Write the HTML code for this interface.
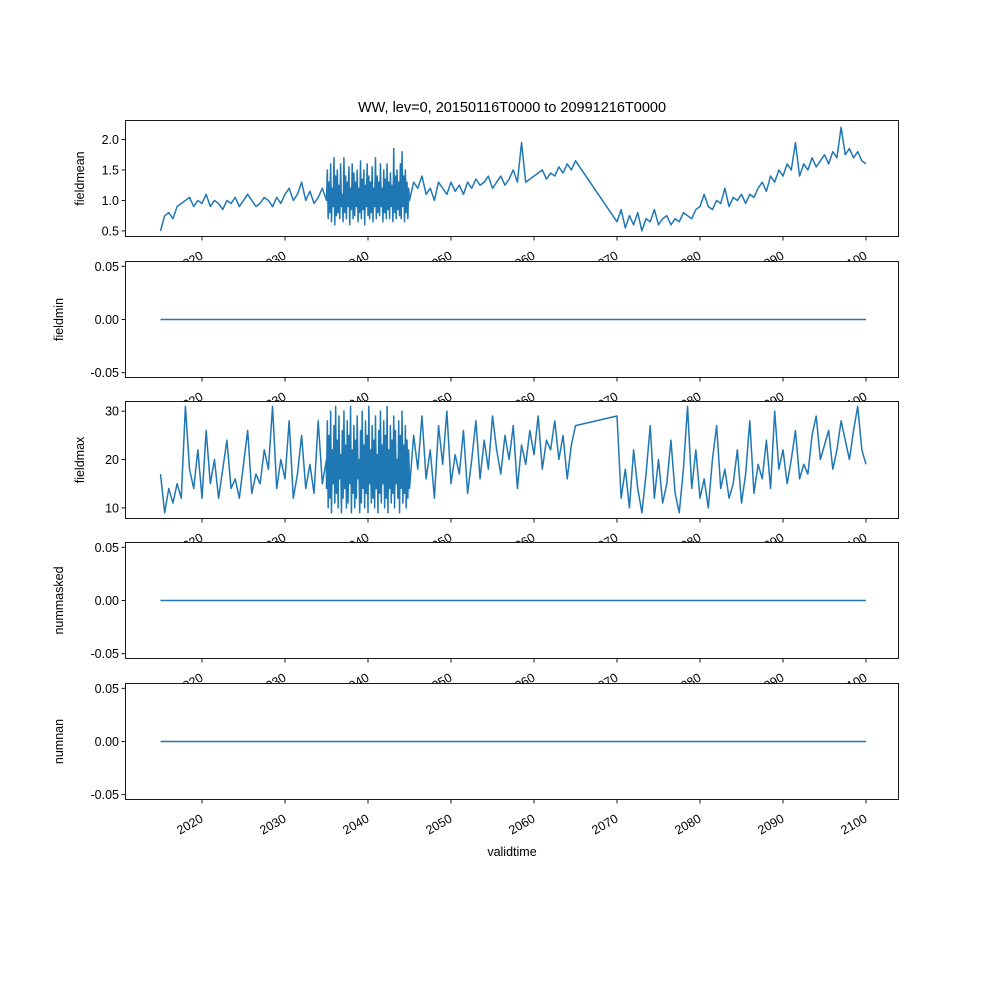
<!DOCTYPE html>
<html><head><meta charset="utf-8">
<style>
html,body{margin:0;padding:0;background:#fff;}
svg{display:block;font-family:"Liberation Sans","DejaVu Sans",sans-serif;}
</style></head>
<body>
<svg id="chart" width="1000" height="1000" viewBox="0 0 1000 1000"></svg>
<script>
// ---- data ----
const xTickYears = [2020,2030,2040,2050,2060,2070,2080,2090,2100];
const panelNames = ["fieldmean","fieldmin","fieldmax","nummasked","numnan"];
const meanTicks = [0.5,1.0,1.5,2.0];
const zeroTicks = [-0.05,0.00,0.05];
const maxTicks = [10,20,30];
const segStarts = [2015,2035,2045,2070];
const segEnds = [2035,2045,2065,2100];
const meanA = [0.5,0.75,0.8,0.7,0.9,0.95,1.0,1.05,0.9,1.0,0.95,1.1,0.9,1.0,0.95,0.85,1.0,0.95,1.05,0.9,1.0,1.1,1.0,0.9,0.95,1.05,1.0,0.9,1.05,0.95,1.1,1.2,1.0,1.1,1.3,1.0,1.15,0.95,1.05,1.2,1.0];
const meanB = [1.0,1.5,0.7,1.3,0.8,1.6,0.65,1.2,0.9,1.7,0.6,1.4,0.75,1.5,0.8,1.25,0.7,1.6,0.9,1.1,0.65,1.7,0.8,1.4,0.7,1.3,0.9,1.55,0.6,1.2,0.85,1.6,0.7,1.45,0.75,1.3,0.9,1.5,0.65,1.2,0.8,1.65,0.7,1.35,0.85,1.5,0.6,1.25,0.9,1.6,0.75,1.4,0.7,1.3,0.8,1.55,0.65,1.2,0.9,1.7,0.7,1.4,0.8,1.3,0.75,1.6,0.9,1.2,0.65,1.5,0.8,1.35,0.7,1.6,0.85,1.3,0.7,1.45,0.9,1.25,0.65,1.85,0.8,1.4,0.7,1.5,0.85,1.3,0.75,1.6,0.7,1.8,0.9,1.4,0.65,1.5,0.8,1.3,0.7,1.2,1.0];
const meanC = [1.0,1.3,1.2,1.4,1.1,1.2,1.0,1.3,1.2,1.1,1.3,1.15,1.25,1.1,1.3,1.2,1.35,1.25,1.3,1.4,1.2,1.3,1.4,1.25,1.35,1.5,1.3,1.95,1.3,1.35,1.4,1.45,1.5,1.35,1.45,1.4,1.55,1.45,1.6,1.5,1.65];
const meanD = [0.65,0.85,0.55,0.75,0.6,0.8,0.5,0.7,0.65,0.85,0.6,0.7,0.75,0.6,0.7,0.65,0.8,0.75,0.7,0.85,0.9,1.1,0.9,0.85,1.0,0.95,1.2,0.9,1.05,1.0,1.1,0.95,1.1,1.05,1.2,1.3,1.15,1.4,1.3,1.5,1.4,1.6,1.5,1.95,1.4,1.6,1.5,1.7,1.55,1.65,1.75,1.6,1.8,1.7,2.2,1.75,1.85,1.7,1.8,1.65,1.6];
const maxA = [17,9,14,11,15,12,31,18,14,22,12,26,15,20,12,18,24,14,16,12,19,26,13,17,15,22,18,31,14,20,16,28,12,17,25,14,19,13,28,15,20];
const maxB = [14,28,10,25,12,30,9,22,15,27,11,31,13,24,10,29,16,21,9,26,12,30,14,23,10,28,11,25,15,31,9,22,13,27,10,24,12,29,16,20,9,26,11,30,14,23,10,28,13,25,9,31,15,22,11,27,12,24,10,29,14,21,9,26,13,30,11,23,15,28,10,25,12,31,9,22,14,27,11,24,13,29,10,26,15,20,12,28,9,25,14,30,11,23,13,27,10,24,12,22,15];
const maxC = [14,25,18,29,16,22,12,27,19,30,15,21,17,26,13,20,28,16,24,18,29,22,17,25,20,27,14,23,19,26,21,29,18,24,22,28,20,25,16,23,27];
const maxD = [29,12,18,10,22,14,9,17,27,12,20,11,15,24,13,9,18,31,14,22,12,16,10,20,27,14,18,12,15,22,11,17,28,13,19,16,24,14,30,18,22,15,20,26,16,19,17,25,29,20,23,26,18,22,28,24,20,26,31,22,19];
const zeroStart = [2015], zeroEnd = [2100], zeroVals = [0,0];

// ---- layout ----
const L=125, R=899;
const panels=[
 {top:120,bot:237,ymin:0.4,ymax:2.32,ticks:meanTicks,fmt:v=>v.toFixed(1),segs:[meanA,meanB,meanC,meanD]},
 {top:261,bot:378,ymin:-0.055,ymax:0.055,ticks:zeroTicks,fmt:v=>v.toFixed(2),segs:[zeroVals]},
 {top:401,bot:519,ymin:7.7,ymax:32.1,ticks:maxTicks,fmt:v=>String(v),segs:[maxA,maxB,maxC,maxD]},
 {top:542,bot:659,ymin:-0.055,ymax:0.055,ticks:zeroTicks,fmt:v=>v.toFixed(2),segs:[zeroVals]},
 {top:683,bot:800,ymin:-0.055,ymax:0.055,ticks:zeroTicks,fmt:v=>v.toFixed(2),segs:[zeroVals]}
];
const xs = y => 202 + (y-2020)*(866-202)/80;
const NS="http://www.w3.org/2000/svg";
const svg=document.getElementById('chart');
function mk(tag,attrs,parent){const e=document.createElementNS(NS,tag);for(const k in attrs)e.setAttribute(k,attrs[k]);(parent||svg).appendChild(e);return e;}

const t=mk('text',{x:512,y:112,'text-anchor':'middle','font-size':14.5,fill:'#000'});


t.textContent='WW, lev=0, 20150116T0000 to 20991216T0000';

panels.forEach((p,pi)=>{
 const g=mk('g',{});
 
 
 const ys=v=>p.bot-(v-p.ymin)/(p.ymax-p.ymin)*(p.bot-p.top);
 mk('rect',{x:L,y:p.top,width:R-L,height:p.bot-p.top,fill:'#fff',stroke:'none'},g);
 let pts=[];
 if(p.segs.length===1){
   pts.push([xs(zeroStart[0]),ys(zeroVals[0])],[xs(zeroEnd[0]),ys(zeroVals[1])]);
 } else {
   p.segs.forEach((arr,si)=>{
     const s=segStarts[si],e=segEnds[si],n=arr.length;
     arr.forEach((v,i)=>pts.push([xs(s+(e-s)*i/(n-1)),ys(v)]));
   });
 }
 const line=mk('polyline',{points:pts.map(q=>q[0].toFixed(2)+','+q[1].toFixed(2)).join(' '),fill:'none',stroke:'#1f77b4','stroke-width':1.5,'stroke-linejoin':'round'},g);
 
 
 mk('rect',{x:L+0.5,y:p.top+0.5,width:R-L-1,height:p.bot-p.top-1,fill:'none',stroke:'#000','stroke-width':0.9},g);
 p.ticks.forEach(v=>{
   const y=ys(v);
   mk('line',{x1:L-3.5,x2:L,y1:y,y2:y,stroke:'#000','stroke-width':0.9},g);
   const tl=mk('text',{x:L-6,y:y+4.5,'text-anchor':'end','font-size':12.5,fill:'#000'},g);
   
   
   tl.textContent=p.fmt(v);
 });
 const yl=mk('text',{x:0,y:0,'text-anchor':'middle','font-size':12.5,fill:'#000',transform:`translate(${pi===0||pi===2?84:63},${(p.top+p.bot)/2}) rotate(-90)`},g);
 
 
 yl.textContent=panelNames[pi];
 xTickYears.forEach(yr=>{
   const x=xs(yr);
   mk('line',{x1:x,x2:x,y1:p.bot,y2:p.bot+3.5,stroke:'#000','stroke-width':0.9},g);
   const xl=mk('text',{x:0,y:0,'text-anchor':'end','font-size':12.5,fill:'#000',transform:`translate(${x+2},${p.bot+21}) rotate(-30)`},g);
   
   
   xl.textContent=String(yr);
 });
});
const xt=mk('text',{x:512,y:856,'text-anchor':'middle','font-size':12.5,fill:'#000'});


xt.textContent='validtime';
</script>
</body></html>
